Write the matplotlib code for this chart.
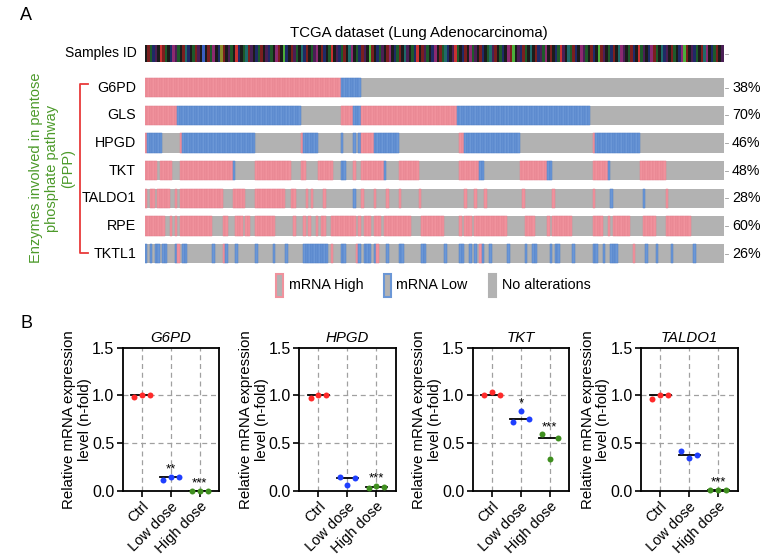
import matplotlib
matplotlib.use("Agg")
import matplotlib.pyplot as plt
from matplotlib.patches import Rectangle
import numpy as np

plt.rcParams["font.family"] = ["Liberation Sans", "DejaVu Sans"]

W, H = 768, 559
N_SAMPLES = 230

# ---- panel A: oncoprint ----
GENES = ["G6PD", "GLS", "HPGD", "TKT", "TALDO1", "RPE", "TKTL1"]
ALTERED = ["38%", "70%", "46%", "48%", "28%", "60%", "26%"]

# (first sample, last sample, H = mRNA high / L = mRNA low)
G6PD_SEG = [(0, 78, "H"), (78, 86.5, "L")]
GLS_SEG = [(0, 13.4, "H"), (13.4, 62.2, "L"), (78, 82.9, "H"), (82.9, 85.6, "L"),
           (85.6, 124.4, "H"), (124.4, 177.4, "L")]
HPGD_SEG = [(0, 1.1, "H"), (1.1, 6.8, "L"), (13.8, 14.9, "H"), (14.9, 43.9, "L"),
            (62.4, 63.4, "H"), (63.4, 68.6, "L"), (78.1, 79.1, "L"), (83.3, 83.9, "L"),
            (84.7, 86.3, "L"), (86.3, 91.3, "H"), (91.3, 100.6, "L"), (124.6, 127.3, "H"),
            (127.3, 148.8, "L"), (177.6, 178.7, "H"), (178.7, 197.2, "L")]
TKT_SEG = [(0, 5.1, "H"), (6.4, 11.2, "H"), (13.6, 34.6, "H"), (34.6, 35.3, "L"),
           (43.9, 57.5, "H"), (62.4, 64.4, "H"), (68.8, 74.8, "H"), (78.0, 78.6, "L"),
           (79.4, 79.9, "L"), (83.3, 83.9, "H"), (86, 95.2, "H"), (95.2, 95.8, "L"),
           (100.6, 108.8, "H"), (124.6, 132.6, "H"), (132.6, 135, "L"), (149.1, 159.8, "H"),
           (159.8, 162.1, "L"), (178.5, 183.8, "H"), (183.8, 184.6, "L"), (197.2, 207.1, "H")]
TALDO1_SEG = [(0, 0.9, "H"), (1.9, 3.5, "H"), (5.1, 5.9, "H"), (6.4, 10.1, "H"),
              (12.5, 13, "H"), (14.1, 30.7, "H"), (34.6, 39.5, "H"), (43.9, 56.5, "H"),
              (58.2, 60.5, "H"), (64.4, 65.1, "H"), (65.7, 67, "H"), (71, 71.7, "H"),
              (83.3, 83.9, "L"), (86.5, 87.3, "H"), (91.3, 91.8, "H"), (95.5, 96.2, "H"),
              (100.6, 101.5, "H"), (108.8, 109.4, "H"), (127, 128.4, "H"), (131.3, 132.3, "H"),
              (135.2, 136.3, "H"), (149.5, 151.1, "H"), (161.7, 162.7, "H"), (178.3, 179.1, "H"),
              (184.6, 185.6, "L"), (197.5, 198.4, "L"), (207.1, 207.9, "H")]
RPE_SEG = [(0, 8.5, "H"), (9.9, 11.4, "H"), (12.5, 13, "H"), (14.1, 27.1, "H"),
           (30.7, 33.3, "H"), (35.6, 38.6, "H"), (39.5, 42.3, "H"), (43.9, 52.5, "H"),
           (58.9, 60.5, "H"), (62.8, 64.2, "H"), (65.1, 66.4, "H"), (67.7, 69, "H"),
           (70.4, 72.4, "H"), (74.4, 83.6, "H"), (84.9, 86.3, "H"), (86.9, 90.2, "H"),
           (91.3, 93.5, "H"), (94.9, 106.1, "H"), (109.8, 119.1, "H"), (124.6, 126.2, "H"),
           (127.3, 130, "H"), (131, 144.3, "H"), (151.1, 155.1, "H"), (159.8, 160.8, "H"),
           (162.1, 169.7, "H"), (177.6, 178.3, "H"), (179.3, 181.6, "H"), (183.6, 184.2, "H"),
           (185.6, 193.1, "H"), (198.5, 203.2, "H"), (207.1, 217.1, "H")]
TKTL1_SEG = [(0.2, 1, "L"), (2.2, 3, "L"), (3.5, 4, "L"), (5.1, 6, "L"), (6.6, 7, "L"),
             (8.1, 9, "L"), (12.5, 13, "L"), (13.4, 14, "H"), (14.8, 15, "L"), (15.4, 16.8, "L"),
             (27.3, 28, "L"), (30.7, 31, "H"), (32, 33, "L"), (35.9, 36.6, "L"), (43.9, 44.6, "L"),
             (51.2, 51.8, "L"), (56.5, 57, "L"), (63.1, 64, "L"), (64.1, 65, "L"), (65.1, 66, "L"),
             (66.2, 67, "L"), (67.2, 68, "L"), (68.4, 71.7, "L"), (72.3, 73, "L"), (74.3, 75, "H"),
             (77.6, 78, "L"), (79.4, 80, "L"), (84.3, 84.8, "H"), (84.9, 85.5, "L"), (86.9, 90.2, "L"),
             (91.3, 92, "L"), (92.2, 93, "H"), (95.5, 96, "L"), (100.8, 101.5, "L"), (102.1, 102.8, "L"),
             (109.8, 111.7, "L"), (119.3, 120, "L"), (124.6, 125.3, "L"), (125.7, 127.3, "L"),
             (128.6, 129.7, "L"), (131, 131.9, "L"), (133.2, 134, "H"), (134.2, 135, "L"),
             (136.8, 137.9, "L"), (144.5, 145.3, "L"), (151.1, 152, "L"), (153.5, 154.3, "L"),
             (155.1, 156, "L"), (160.8, 161.5, "L"), (163, 165.3, "L"), (170, 171, "L"),
             (177.6, 179.6, "L"), (182, 183.3, "L"), (184.6, 185.6, "L"), (186.2, 188.2, "L"),
             (193.5, 194.3, "H"), (198.8, 199.4, "L"), (203.4, 204.1, "L"), (208.7, 209.8, "L"),
             (217.7, 218.3, "L")]
SEGMENTS = [G6PD_SEG, GLS_SEG, HPGD_SEG, TKT_SEG, TALDO1_SEG, RPE_SEG, TKTL1_SEG]

# sample ID colour codes, one character per stripe
SAMPLE_ID_CODES = (
    "krgbpkRrgkbmpgkrcbkgrpkBkrgmkbyrkpgkRbkgcrpkbg"
    "rkpbgkmrkGbkrpgkcbrkgpmkrbkgRkpbgrkcmkgbrpkGrk"
    "bgpkrmkbgrkcpkgbRkrpgkbmkrgcbkpRgkbrkmgpkrbkgc"
    "prkgbkmrGkpbrgkckrbpgmkrkbgRpkcgrbkmpgkrbkGrpk"
    "gbrkcmpkgrbkRgpkbmrgkcbpkrgkbmGrkpbgkrcmkbgrkp"
)
ID_COLORS = {"k": "#1c1c1c", "r": "#7a1f1f", "R": "#c83232", "g": "#1e5a2a",
             "G": "#4caf3a", "b": "#1f2a66", "B": "#3a5fc0", "p": "#4a1f55",
             "m": "#8c2a70", "y": "#8a8a2a", "c": "#1f6a6a"}

# ---- panel B: qPCR ----
B_GENES = ["G6PD", "HPGD", "TKT", "TALDO1"]
GROUPS = ["Ctrl", "Low dose", "High dose"]
G6PD_VALS = [[0.98, 1.01, 1.0], [0.11, 0.15, 0.148], [0.005, 0.005, 0.005]]
HPGD_VALS = [[0.97, 1.0, 1.0], [0.15, 0.063, 0.133], [0.035, 0.055, 0.039]]
TKT_VALS = [[1.0, 1.04, 1.0], [0.725, 0.84, 0.757], [0.593, 0.335, 0.558]]
TALDO1_VALS = [[0.96, 1.0, 1.0], [0.42, 0.35, 0.38], [0.01, 0.015, 0.01]]
B_VALS = [G6PD_VALS, HPGD_VALS, TKT_VALS, TALDO1_VALS]
STARS = [["", "**", "***"], ["", "", "***"], ["", "*", "***"], ["", "", "***"]]
GROUP_COLORS = ["#ff2a2a", "#1f3fff", "#3f8f1f"]

PINK, PINK_EDGE = "#f0929d", "#e47f8c"
BLUE, BLUE_EDGE = "#6b97d6", "#4d7ec6"
GRAY = "#b2b2b2"


def status_of(segs):
    st = [""] * N_SAMPLES
    for a, b, k in segs:
        i0 = int(round(a))
        i1 = max(int(round(b)), i0 + 1)
        for i in range(i0, min(i1, N_SAMPLES)):
            st[i] = k
    return st


fig = plt.figure(figsize=(W / 100, H / 100), dpi=100)

# overlay in pixel coordinates for labels / decorations
ov = fig.add_axes([0, 0, 1, 1])
ov.set_xlim(0, W)
ov.set_ylim(H, 0)
ov.axis("off")

# oncoprint axes
onc = fig.add_axes([144.5 / W, 1 - 263.5 / H, 579 / W, 219 / H])
onc.set_xlim(0, N_SAMPLES)
onc.set_ylim(263.5, 44.5)
onc.axis("off")

# samples id stripe
sw = N_SAMPLES / len(SAMPLE_ID_CODES)
for i, c in enumerate(SAMPLE_ID_CODES):
    onc.add_patch(Rectangle((i * sw, 45), sw, 17, fc=ID_COLORS[c], ec="none"))

row_h = 19.3
for r, segs in enumerate(SEGMENTS):
    yc = 87.8 + r * 27.65
    onc.add_patch(Rectangle((0, yc - row_h / 2), N_SAMPLES, row_h, fc=GRAY, ec="none"))
    for i, k in enumerate(status_of(segs)):
        if k == "H":
            onc.add_patch(Rectangle((i, yc - row_h / 2), 1, row_h, fc=PINK, ec=PINK_EDGE, lw=0.35))
        elif k == "L":
            onc.add_patch(Rectangle((i, yc - row_h / 2), 1, row_h, fc=BLUE, ec=BLUE_EDGE, lw=0.35))
    ov.text(136, yc, GENES[r], ha="right", va="center", fontsize=10.3)
    ov.text(732, yc, ALTERED[r], ha="left", va="center", fontsize=10.3)
    ov.plot([724.5, 728], [yc, yc], color="#999999", lw=0.6)

ov.plot([724.5, 728], [53.5, 53.5], color="#999999", lw=0.6)
ov.text(20, 16, "A", fontsize=13, ha="left", va="center")
ov.text(419, 33, "TCGA dataset (Lung Adenocarcinoma)", fontsize=10.8, ha="center", va="center")
ov.text(137, 53.5, "Samples ID", fontsize=10, ha="right", va="center")

# bracket + pathway label
ov.plot([88, 80, 80, 88], [84, 84, 253, 253], color="#e83a3a", lw=1.3)
ov.text(52, 168, "Enzymes involved in pentose\nphosphate pathway\n(PPP)", rotation=90,
        ha="center", va="center", multialignment="center", fontsize=10.5,
        color="#4c9a2a", linespacing=1.15)

# legend
for x0, ec, txt in [(276, PINK, "mRNA High"), (383.5, BLUE, "mRNA Low"), (489, GRAY, "No alterations")]:
    ov.add_patch(Rectangle((x0, 273.5), 7, 23, fc=GRAY, ec=ec, lw=1.5))
    ov.text(x0 + 13, 285, txt, ha="left", va="center", fontsize=10.3)

ov.text(20, 323, "B", fontsize=13, ha="left", va="center")

# ---- panel B axes ----
lefts = [122.7, 299.3, 472.7, 641]
offsets = [-0.27, 0, 0.27]
for g, gene in enumerate(B_GENES):
    ax = fig.add_axes([lefts[g] / W, 1 - 491 / H, 96.5 / W, 143.3 / H])
    for j in range(3):
        vals = B_VALS[g][j]
        xs = [j + o for o in offsets]
        med = np.median(vals)
        ax.plot([j - 0.36, j + 0.36], [med, med], color="black", lw=1.3, zorder=3)
        ax.plot(xs, vals, "o", color=GROUP_COLORS[j], ms=4.3, mec="none", zorder=4, clip_on=False)
        if STARS[g][j]:
            ax.text(j, max(vals) + 0.045, STARS[g][j], ha="center", va="baseline", fontsize=9.5)
    ax.set_xlim(-0.66, 2.67)
    ax.set_ylim(0, 1.5)
    ax.set_yticks([0, 0.5, 1.0, 1.5])
    ax.set_yticklabels(["0.0", "0.5", "1.0", "1.5"], fontsize=11.5)
    ax.set_xticks(range(3))
    ax.set_xticklabels(GROUPS, rotation=45, ha="right", rotation_mode="anchor", fontsize=10.5)
    for x in range(3):
        ax.axvline(x, color="#a0a0a0", lw=0.9, ls=(0, (4, 3)), zorder=1)
    for y in [0.5, 1.0]:
        ax.axhline(y, color="#a0a0a0", lw=0.9, ls=(0, (4, 3)), zorder=1)
    for s in ax.spines.values():
        s.set_linewidth(1.3)
    ax.tick_params(width=1.2, length=4, pad=2)
    ax.set_title(gene, fontstyle="italic", fontsize=10.8, pad=4)
    ax.set_ylabel("Relative mRNA expression\nlevel (n-fold)", fontsize=10.8, labelpad=0, linespacing=1.15)

fig.savefig("out.png", dpi=100)
